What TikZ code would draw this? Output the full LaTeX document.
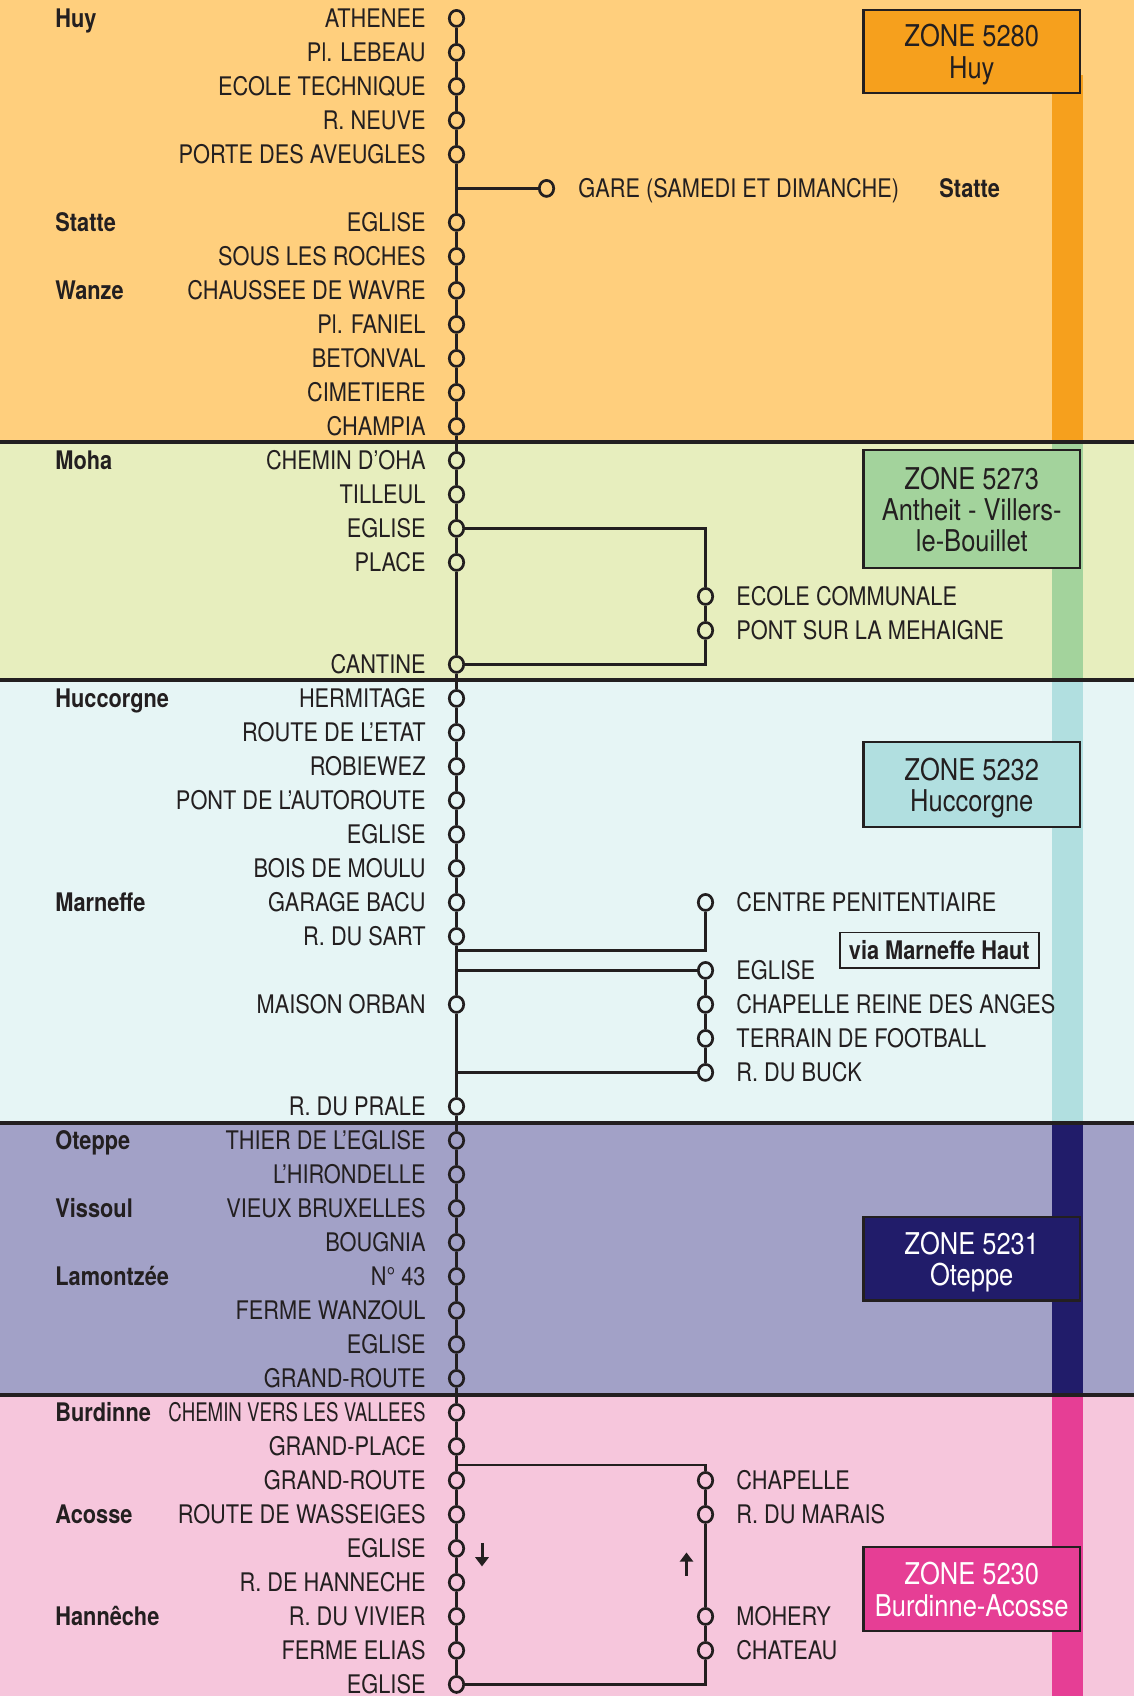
\documentclass[tikz,border=0pt]{standalone}
\usepackage{fontspec}
\setmainfont{TeX Gyre Heros}[FakeStretch=0.85]
\newfontfamily\narrowfont{TeX Gyre Heros}[FakeStretch=0.73]
\usetikzlibrary{shapes.geometric,positioning,arrows.meta}

\definecolor{ink}{HTML}{231F20}
\definecolor{huybg}{HTML}{FFCF7D}
\definecolor{huyzone}{HTML}{F6A01D}
\definecolor{mohabg}{HTML}{E7EEBE}
\definecolor{mohazone}{HTML}{A3D39C}
\definecolor{huccbg}{HTML}{E6F5F5}
\definecolor{hucczone}{HTML}{B1DFE0}
\definecolor{otepbg}{HTML}{A2A1C7}
\definecolor{otepzone}{HTML}{211C6A}
\definecolor{burdbg}{HTML}{F6C6DC}
\definecolor{burdzone}{HTML}{E63E95}

\newcommand\stopsize{\fontsize{12.8}{14}\selectfont}

\tikzstyle{stop} = [ellipse,draw=ink,line width=1.35pt,minimum width=7.2pt,minimum height=8pt,inner sep=0pt]
\tikzstyle{brstop} = [stop,label distance=13.4pt]
\tikzstyle{lbl} = [font=\stopsize,text=ink,inner sep=0pt,text height=9.3pt,text depth=0pt]
\tikzstyle{town} = [lbl,font=\stopsize\bfseries,anchor=west]
\tikzstyle{route} = [draw=ink,line width=1.35pt]
\tikzstyle{border} = [draw=ink,line width=2pt]
\tikzstyle{dir} = [draw=ink,line width=1.5pt,-{Triangle[length=4.6pt,width=6.6pt]}]
\tikzstyle{zone} = [draw=ink,line width=1.1pt,minimum width=108.25pt,align=center,font=\fontsize{15}{15.6}\selectfont,text=ink,inner sep=0pt,text depth=0pt]

\begin{document}
\begin{tikzpicture}[x=0.5pt,y=-17pt,label distance=11pt,every label/.style=lbl]
	\useasboundingbox (0,-0.541) rectangle (1134,49.341);
	% zone bands
	\fill[huybg] (0,-0.541) rectangle (1134,12.45);
	\fill[mohabg] (0,12.45) rectangle (1134,19.45);
	\fill[huccbg] (0,19.45) rectangle (1134,32.5);
	\fill[otepbg] (0,32.5) rectangle (1134,40.5);
	\fill[burdbg] (0,40.5) rectangle (1134,49.341);
	\fill[huyzone] (1052,1.66) rectangle (1083,12.45);
	\fill[mohazone] (1052,12.45) rectangle (1083,19.45);
	\fill[hucczone] (1052,19.45) rectangle (1083,32.5);
	\fill[otepzone] (1052,32.5) rectangle (1083,40.5);
	\fill[burdzone] (1052,40.5) rectangle (1083,49.341);
	\draw[border] (0,12.45) -- (1134,12.45);
	\draw[border] (0,19.45) -- (1134,19.45);
	\draw[border] (0,32.5) -- (1134,32.5);
	\draw[border] (0,40.5) -- (1134,40.5);

	% Huy - Statte - Wanze
	\node (athenee) [stop,label=left:ATHENEE] at (456.5,0) {};
	\node (lebeau) [stop,label=left:Pl. LEBEAU] at (456.5,1) {};
	\node (ecoletech) [stop,label=left:ECOLE TECHNIQUE] at (456.5,2) {};
	\node (neuve) [stop,label=left:R. NEUVE] at (456.5,3) {};
	\node (porte) [stop,label=left:PORTE DES AVEUGLES] at (456.5,4) {};
	\coordinate (garej) at (456.5,5);
	\node (gare) [stop,label={[label distance=11.5pt]right:GARE (SAMEDI ET DIMANCHE)}] at (546.5,5) {};
	\node (eglstatte) [stop,label=left:EGLISE] at (456.5,6) {};
	\node (roches) [stop,label=left:SOUS LES ROCHES] at (456.5,7) {};
	\node (wavre) [stop,label=left:CHAUSSEE DE WAVRE] at (456.5,8) {};
	\node (faniel) [stop,label=left:Pl. FANIEL] at (456.5,9) {};
	\node (betonval) [stop,label=left:BETONVAL] at (456.5,10) {};
	\node (cimetiere) [stop,label=left:CIMETIERE] at (456.5,11) {};
	\node (champia) [stop,label=left:CHAMPIA] at (456.5,12) {};

	% Moha
	\node (oha) [stop,label=left:CHEMIN D'OHA] at (456.5,13) {};
	\node (tilleul) [stop,label=left:TILLEUL] at (456.5,14) {};
	\node (eglmoha) [stop,label=left:EGLISE] at (456.5,15) {};
	\node (place) [stop,label=left:PLACE] at (456.5,16) {};
	\node (ecolecom) [brstop,label=right:ECOLE COMMUNALE] at (705.5,17) {};
	\node (mehaigne) [brstop,label=right:PONT SUR LA MEHAIGNE] at (705.5,18) {};
	\node (cantine) [stop,label=left:CANTINE] at (456.5,19) {};

	% Huccorgne - Marneffe
	\node (hermitage) [stop,label=left:HERMITAGE] at (456.5,20) {};
	\node (etat) [stop,label=left:ROUTE DE L'ETAT] at (456.5,21) {};
	\node (robiewez) [stop,label=left:ROBIEWEZ] at (456.5,22) {};
	\node (autoroute) [stop,label=left:PONT DE L'AUTOROUTE] at (456.5,23) {};
	\node (eglhucc) [stop,label=left:EGLISE] at (456.5,24) {};
	\node (moulu) [stop,label=left:BOIS DE MOULU] at (456.5,25) {};
	\node (bacu) [stop,label=left:GARAGE BACU] at (456.5,26) {};
	\node (penit) [brstop,label=right:CENTRE PENITENTIAIRE] at (705.5,26) {};
	\node (sart) [stop,label=left:R. DU SART] at (456.5,27) {};
	\coordinate (hautj) at (456.5,27.41);
	\coordinate (eglj) at (456.5,28);
	\node (eglmarn) [brstop,label=right:EGLISE] at (705.5,28) {};
	\node (orban) [stop,label=left:MAISON ORBAN] at (456.5,29) {};
	\node (anges) [brstop,label=right:CHAPELLE REINE DES ANGES] at (705.5,29) {};
	\node (football) [brstop,label=right:TERRAIN DE FOOTBALL] at (705.5,30) {};
	\node (buck) [brstop,label=right:R. DU BUCK] at (705.5,31) {};
	\coordinate (buckj) at (456.5,31);
	\node (prale) [stop,label=left:R. DU PRALE] at (456.5,32) {};

	% Oteppe - Vissoul - Lamontzee
	\node (thier) [stop,label=left:THIER DE L'EGLISE] at (456.5,33) {};
	\node (hirondelle) [stop,label=left:L'HIRONDELLE] at (456.5,34) {};
	\node (bruxelles) [stop,label=left:VIEUX BRUXELLES] at (456.5,35) {};
	\node (bougnia) [stop,label=left:BOUGNIA] at (456.5,36) {};
	\node (n43) [stop,label=left:N° 43] at (456.5,37) {};
	\node (wanzoul) [stop,label=left:FERME WANZOUL] at (456.5,38) {};
	\node (egloteppe) [stop,label=left:EGLISE] at (456.5,39) {};
	\node (grandroute1) [stop,label=left:GRAND-ROUTE] at (456.5,40) {};

	% Burdinne - Acosse - Hanneche
	\node (vallees) [stop,label=left:{\narrowfont CHEMIN VERS LES VALLEES}] at (456.5,41) {};
	\node (grandplace) [stop,label=left:GRAND-PLACE] at (456.5,42) {};
	\coordinate (burdj) at (456.5,42.55);
	\node (grandroute2) [stop,label=left:GRAND-ROUTE] at (456.5,43) {};
	\node (chapelle) [brstop,label=right:CHAPELLE] at (705.5,43) {};
	\node (wasseiges) [stop,label=left:ROUTE DE WASSEIGES] at (456.5,44) {};
	\node (marais) [brstop,label=right:R. DU MARAIS] at (705.5,44) {};
	\node (eglacosse) [stop,label=left:EGLISE] at (456.5,45) {};
	\node (hanneche) [stop,label=left:R. DE HANNECHE] at (456.5,46) {};
	\node (vivier) [stop,label=left:R. DU VIVIER] at (456.5,47) {};
	\node (mohery) [brstop,label=right:MOHERY] at (705.5,47) {};
	\node (elias) [stop,label=left:FERME ELIAS] at (456.5,48) {};
	\node (chateau) [brstop,label=right:CHATEAU] at (705.5,48) {};
	\node (eglhanneche) [stop,label=left:EGLISE] at (456.5,49) {};

	% towns
	\node (t-huy) [town] at (55,0) {Huy};
	\node (t-statte) [town] at (55,6) {Statte};
	\node (t-statte2) [town] at (939,5) {Statte};
	\node (t-wanze) [town] at (55,8) {Wanze};
	\node (t-moha) [town] at (55,13) {Moha};
	\node (t-huccorgne) [town] at (55,20) {Huccorgne};
	\node (t-marneffe) [town] at (55,26) {Marneffe};
	\node (t-oteppe) [town] at (55,33) {Oteppe};
	\node (t-vissoul) [town] at (55,35) {Vissoul};
	\node (t-lamontzee) [town] at (55,37) {Lamontzée};
	\node (t-burdinne) [town] at (55,41) {Burdinne};
	\node (t-acosse) [town] at (55,44) {Acosse};
	\node (t-hanneche) [town] at (55,47) {Hannêche};

	% main line
	\draw[route] (athenee) -- (lebeau) -- (ecoletech) -- (neuve) -- (porte) -- (garej) -- (eglstatte) -- (roches) -- (wavre) -- (faniel) -- (betonval) -- (cimetiere) -- (champia) -- (oha) -- (tilleul) -- (eglmoha) -- (place) -- (cantine);
	\draw[route] (cantine) -- (hermitage) -- (etat) -- (robiewez) -- (autoroute) -- (eglhucc) -- (moulu) -- (bacu) -- (sart) -- (hautj) -- (eglj) -- (orban) -- (buckj) -- (prale) -- (thier);
	\draw[route] (thier) -- (hirondelle) -- (bruxelles) -- (bougnia) -- (n43) -- (wanzoul) -- (egloteppe) -- (grandroute1) -- (vallees) -- (grandplace) -- (burdj) -- (grandroute2) -- (wasseiges) -- (eglacosse) -- (hanneche) -- (vivier) -- (elias) -- (eglhanneche);
	% branches
	\draw[route] (garej) -- (gare);
	\draw[route] (eglmoha) -| (ecolecom) -- (mehaigne) |- (cantine);
	\draw[route] (penit) |- (hautj);
	\draw[route] (eglj) -- (eglmarn) -- (anges) -- (football) -- (buck) -- (buckj);
	\draw[route] (burdj) -| (chapelle) -- (marais) -- (mohery) -- (chateau) |- (eglhanneche);

	\node (viahaut) [lbl,font=\stopsize\bfseries,draw=ink,line width=0.9pt,inner xsep=4.5pt,inner ysep=4.3pt] at (939.3,27.41) {via Marneffe Haut};

	% direction of travel
	\coordinate (down-a) at (482,44.84);
	\coordinate (down-b) at (482,45.53);
	\coordinate (up-a) at (686.5,45.81);
	\coordinate (up-b) at (686.5,45.12);
	\draw[dir] (down-a) -- (down-b);
	\draw[dir] (up-a) -- (up-b);

	% zone boxes
	\node (z5280) [zone,fill=huyzone,minimum height=41.5pt] at (971.75,0.97) {ZONE 5280\\Huy};
	\node (z5273) [zone,fill=mohazone,minimum height=59pt] at (971.75,14.43) {ZONE 5273\\Antheit - Villers-\\le-Bouillet};
	\node (z5232) [zone,fill=hucczone,minimum height=42.5pt] at (971.75,22.53) {ZONE 5232\\Huccorgne};
	\node (z5231) [zone,fill=otepzone,text=white,minimum height=41.8pt] at (971.75,36.48) {ZONE 5231\\Oteppe};
	\node (z5230) [zone,fill=burdzone,text=white,minimum height=42pt] at (971.75,46.2) {ZONE 5230\\Burdinne-Acosse};
\end{tikzpicture}
\end{document}
